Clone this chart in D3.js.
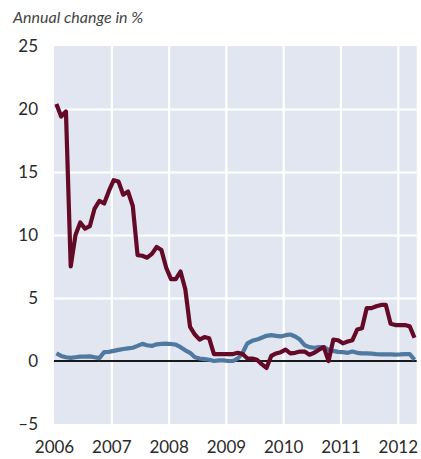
<!DOCTYPE html>
<html>
<head>
<meta charset="utf-8">
<script src="https://cdn.jsdelivr.net/npm/d3@7"></script>
<style>
  html, body { margin: 0; padding: 0; background: #ffffff; }
  svg { display: block; }
  text { font-family: Lato, "Open Sans", sans-serif; }
</style>
</head>
<body>
<svg id="chart" width="421" height="459"></svg>
<script>
// ---- data (monthly, starting January 2006) ----
const startYear = 2006;
const yearTicks = [2006, 2007, 2008, 2009, 2010, 2011, 2012];
const valueTicks = [-5, 0, 5, 10, 15, 20, 25];
const seriesRed = [
  20.4, 19.4, 19.8, 7.5, 10.0, 11.0, 10.5, 10.7, 12.1, 12.7, 12.5, 13.5,
  14.35, 14.25, 13.2, 13.45, 12.3, 8.4, 8.35, 8.2, 8.5, 9.05, 8.8, 7.4,
  6.5, 6.5, 7.1, 5.7, 2.7, 2.1, 1.7, 1.9, 1.8, 0.55, 0.55, 0.55,
  0.55, 0.55, 0.65, 0.55, 0.2, 0.2, 0.1, -0.25, -0.55, 0.4, 0.6, 0.7,
  0.9, 0.6, 0.65, 0.75, 0.75, 0.5, 0.65, 0.9, 1.1, 0.0, 1.7, 1.65,
  1.4, 1.55, 1.65, 2.5, 2.6, 4.2, 4.2, 4.35, 4.45, 4.45, 2.95, 2.85,
  2.85, 2.85, 2.75, 1.85
];
const seriesBlue = [
  0.6, 0.4, 0.3, 0.25, 0.3, 0.35, 0.35, 0.37, 0.3, 0.23, 0.7, 0.72,
  0.8, 0.88, 0.95, 1.0, 1.05, 1.2, 1.36, 1.25, 1.2, 1.32, 1.36, 1.38,
  1.35, 1.3, 1.1, 0.85, 0.65, 0.3, 0.2, 0.15, 0.1, 0.0, 0.05, 0.05,
  0.0, 0.0, 0.2, 0.65, 1.4, 1.6, 1.7, 1.85, 2.0, 2.05, 2.0, 1.95,
  2.05, 2.1, 1.95, 1.7, 1.25, 1.1, 1.05, 1.1, 1.1, 0.9, 0.8, 0.72,
  0.7, 0.65, 0.75, 0.65, 0.6, 0.6, 0.58, 0.55, 0.53, 0.53, 0.52, 0.5,
  0.52, 0.55, 0.55, 0.1
];

// ---- layout ----
const svg = d3.select("#chart");
const plot = { left: 54, right: 416.7, top: 46, bottom: 424 };

const x = d3.scaleLinear().domain([2006, 2012.33]).range([plot.left, plot.right]);
const y = d3.scaleLinear().domain([-5, 25]).range([plot.bottom, plot.top]);

const monthX = i => x(startYear + (i + 0.5) / 12);

// background
svg.append("rect")
  .attr("x", plot.left).attr("y", plot.top)
  .attr("width", plot.right - plot.left).attr("height", plot.bottom - plot.top)
  .attr("fill", "#e1e6f0");

// gridlines via axes
const gridY = svg.append("g")
  .attr("transform", `translate(${plot.left},0)`)
  .call(d3.axisLeft(y).tickValues(valueTicks.filter(v => v > -5 && v < 25 && v !== 0))
    .tickSize(-(plot.right - plot.left)).tickFormat(""));
gridY.select(".domain").remove();
gridY.selectAll("line").attr("stroke", "#ffffff").attr("stroke-width", 2.2);

const gridX = svg.append("g")
  .attr("transform", `translate(0,${plot.bottom})`)
  .call(d3.axisBottom(x).tickValues(yearTicks.filter(v => v > 2006))
    .tickSize(-(plot.bottom - plot.top)).tickFormat(""));
gridX.select(".domain").remove();
gridX.selectAll("line").attr("stroke", "#ffffff").attr("stroke-width", 2.2);

// zero line
svg.append("line")
  .attr("x1", plot.left).attr("x2", plot.right)
  .attr("y1", y(0)).attr("y2", y(0))
  .attr("stroke", "#1a1a1a").attr("stroke-width", 2.2);

// series lines
const line = d3.line()
  .x((d, i) => monthX(i))
  .y(d => y(d));

svg.append("path")
  .datum(seriesBlue)
  .attr("d", line)
  .attr("fill", "none")
  .attr("stroke", "#4f79a0")
  .attr("stroke-width", 4.2)
  .attr("stroke-linejoin", "round");

svg.append("path")
  .datum(seriesRed)
  .attr("d", line)
  .attr("fill", "none")
  .attr("stroke", "#650a26")
  .attr("stroke-width", 4.2)
  .attr("stroke-linejoin", "round");

// y axis labels
const axY = svg.append("g")
  .attr("transform", `translate(38,0)`)
  .call(d3.axisLeft(y).tickValues(valueTicks).tickSize(0).tickPadding(0)
    .tickFormat(d => d < 0 ? "\u2013" + Math.abs(d) : String(d)));
axY.select(".domain").remove();
axY.selectAll("text")
  .attr("font-family", "Lato, 'Open Sans', sans-serif")
  .attr("font-size", 17)
  .attr("fill", "#2a2a2a");

// x axis labels
const axX = svg.append("g")
  .attr("transform", `translate(0,441)`)
  .call(d3.axisBottom(x).tickValues(yearTicks).tickSize(0).tickPadding(0)
    .tickFormat(d3.format("d")));
axX.select(".domain").remove();
axX.selectAll("text")
  .attr("font-family", "Lato, 'Open Sans', sans-serif")
  .attr("font-size", 17)
  .attr("fill", "#2a2a2a");

// title
svg.append("text")
  .attr("x", 13).attr("y", 23)
  .attr("font-family", "Lato, 'Open Sans', sans-serif")
  .attr("font-style", "italic")
  .attr("font-size", 16)
  .attr("fill", "#444")
  .text("Annual change in %");
</script>
</body>
</html>
